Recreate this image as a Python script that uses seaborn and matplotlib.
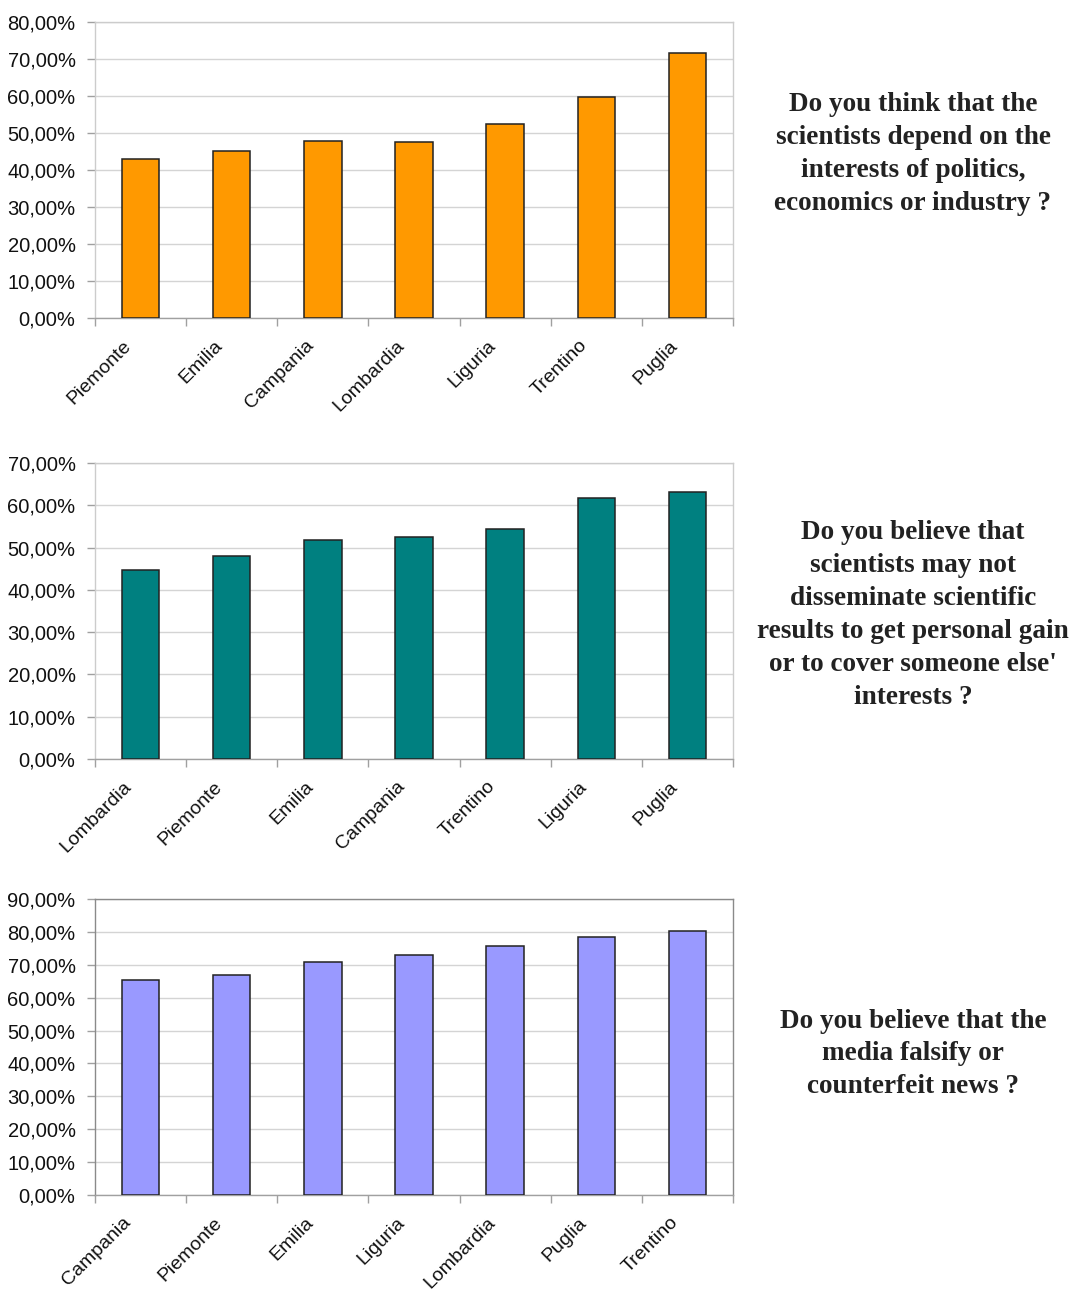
import matplotlib
matplotlib.use("Agg")
import matplotlib.pyplot as plt
import matplotlib.transforms as mtransforms
import seaborn as sns
import pandas as pd
from matplotlib.ticker import FuncFormatter, MultipleLocator

# ---- data ----
cats1 = ["Piemonte", "Emilia", "Campania", "Lombardia", "Liguria", "Trentino", "Puglia"]
vals1 = [43.1, 45.1, 47.8, 47.5, 52.3, 59.8, 71.5]
question1 = "Do you think that the\nscientists depend on the\ninterests of politics,\neconomics or industry ?"

cats2 = ["Lombardia", "Piemonte", "Emilia", "Campania", "Trentino", "Liguria", "Puglia"]
vals2 = [44.6, 47.9, 51.8, 52.4, 54.5, 61.7, 63.2]
question2 = ("Do you believe that\nscientists may not\ndisseminate scientific\n"
             "results to get personal gain\nor to cover someone else'\ninterests ?")

cats3 = ["Campania", "Piemonte", "Emilia", "Liguria", "Lombardia", "Puglia", "Trentino"]
vals3 = [65.3, 66.8, 70.7, 73.1, 75.7, 78.5, 80.4]
question3 = "Do you believe that the\nmedia falsify or\ncounterfeit news ?"

sns.set_theme(style="white")
plt.rcParams['font.family'] = ['Liberation Sans', 'DejaVu Sans']

W, H = 1072, 1293
fig = plt.figure(figsize=(W / 100, H / 100), dpi=100)

# (categories, values, question, colour, axes top px, axes bottom px, ymax, spine colour, text centre y px)
panels = [
    (cats1, vals1, question1, "#FF9900", 22, 318, 80, "#cccccc", 154),
    (cats2, vals2, question2, "#008080", 463, 759, 70, "#cccccc", 615),
    (cats3, vals3, question3, "#9999FF", 899, 1195, 90, "#8a8a8a", 1054),
]

fmt = FuncFormatter(lambda v, p: f"{v:.2f}%".replace(".", ","))
shift = mtransforms.ScaledTranslation(-12 / 100, 0, fig.dpi_scale_trans)

for cats, vals, q, col, top, bot, ym, spc, ty in panels:
    ax = fig.add_axes([95 / W, 1 - bot / H, 638 / W, (bot - top) / H])
    df = pd.DataFrame({"region": cats, "value": vals})
    sns.barplot(data=df, x="region", y="value", order=cats, color=col,
                edgecolor="#222222", linewidth=1.1, width=0.41, saturation=1,
                ax=ax, zorder=3)
    ax.set_xlim(-0.5, len(cats) - 0.5)
    ax.set_ylim(0, ym)
    ax.yaxis.set_major_locator(MultipleLocator(10))
    ax.yaxis.set_major_formatter(fmt)
    ax.set_xlabel("")
    ax.set_ylabel("")
    ax.grid(axis="y", color="#d4d4d4", linewidth=1, zorder=0)
    ax.grid(axis="x", visible=False)
    ax.set_axisbelow(True)
    for s in ax.spines.values():
        s.set_color(spc)
        s.set_linewidth(1.0)
        s.set_visible(True)
    ax.spines["bottom"].set_color("#a0a0a0")
    ax.set_xticks([i - 0.5 for i in range(len(cats) + 1)], minor=True)
    ax.tick_params(axis="x", which="major", length=0, pad=18, labelsize=14,
                   labelcolor="#111111")
    ax.tick_params(axis="x", which="minor", length=6, color="#a0a0a0", width=1,
                   direction="out", bottom=True)
    ax.tick_params(axis="y", which="major", length=6, color="#a0a0a0", width=1,
                   direction="out", left=True, labelsize=14.5, labelcolor="#111111", pad=8)
    for lab in ax.get_xticklabels():
        lab.set_rotation(45)
        lab.set_ha("right")
        lab.set_va("center")
        lab.set_rotation_mode("anchor")
        lab.set_transform(lab.get_transform() + shift)
    fig.text(913 / W, 1 - ty / H, q, ha="center", va="center", fontsize=19.6,
             fontweight="bold", family=["Liberation Serif", "DejaVu Serif"],
             color="#222222", linespacing=1.42)

fig.savefig("out.png", dpi=100, facecolor="white")
